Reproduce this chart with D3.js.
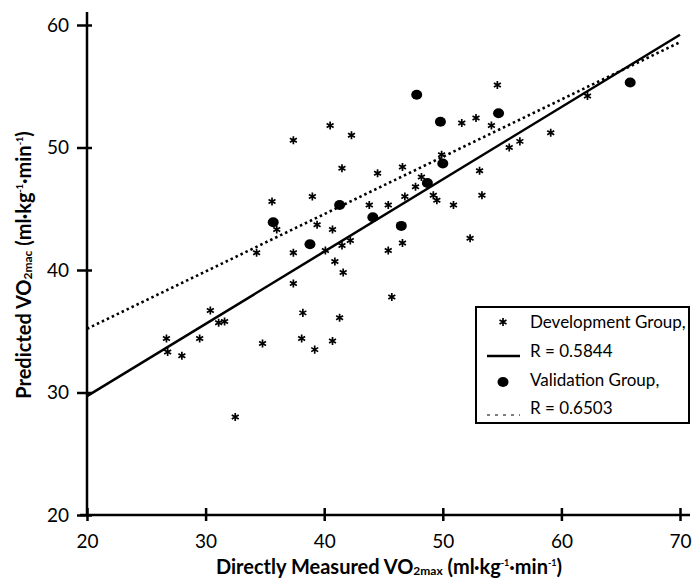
<!DOCTYPE html>
<html>
<head>
<meta charset="utf-8">
<script src="https://cdn.jsdelivr.net/npm/d3@7"></script>
<style>
  body { margin: 0; background: #fff; }
  svg { font-family: Lato, "Open Sans", sans-serif; }
</style>
</head>
<body>
<div id="chart"></div>
<script>
// du lieu doc tu hinh
var devX = [35.6, 36.0, 39.0, 37.4, 40.5, 41.5, 40.7, 39.4, 37.4, 34.3, 40.1, 40.9, 41.6, 37.4,
  30.4, 26.7, 26.8, 28.0, 29.5, 31.1, 31.6, 32.5, 34.8, 38.2, 38.1, 39.2, 40.7, 41.3,
  51.6, 52.8, 54.6, 54.1, 62.2, 59.1, 42.3, 55.6, 56.5, 49.9, 44.5, 46.6, 48.2, 47.7,
  46.8, 49.2, 49.5, 50.9, 53.1, 53.3, 43.8, 45.4, 46.6, 45.4, 42.2, 41.5, 52.3, 45.7];
var devY = [45.6, 43.3, 46.0, 50.6, 51.8, 48.3, 43.3, 43.7, 41.4, 41.4, 41.6, 40.7, 39.8, 38.9,
  36.7, 34.4, 33.3, 33.0, 34.4, 35.7, 35.8, 28.0, 34.0, 36.5, 34.4, 33.5, 34.2, 36.1,
  52.0, 52.4, 55.1, 51.8, 54.2, 51.2, 51.0, 50.0, 50.5, 49.4, 47.9, 48.4, 47.6, 46.8,
  46.0, 46.1, 45.7, 45.3, 48.1, 46.1, 45.3, 45.3, 42.2, 41.6, 42.4, 42.0, 42.6, 37.8];

var valX = [35.7, 41.3, 38.8, 47.8, 49.8, 54.7, 65.8, 50.0, 48.7, 44.1, 46.5];
var valY = [43.9, 45.3, 42.1, 54.3, 52.1, 52.8, 55.3, 48.7, 47.1, 44.3, 43.6];

// duong hoi quy
var fitX = [20, 70];
var devFit = [29.7, 59.2];
var valFit = [35.2, 58.6];

var xTicks = [20, 30, 40, 50, 60, 70];
var yTicks = [20, 30, 40, 50, 60];

var legendLabels = ["Development Group,", "R = 0.5844", "Validation Group,", "R = 0.6503"];

var width = 696, height = 584;

var svg = d3.select("#chart").append("svg")
  .attr("width", width)
  .attr("height", height);

var x = d3.scaleLinear().domain([20, 70]).range([87, 680]);
var y = d3.scaleLinear().domain([20, 60]).range([515, 25]);

// truc
svg.append("line")
  .attr("x1", x(20)).attr("x2", x(20))
  .attr("y1", 12).attr("y2", y(20))
  .attr("stroke", "#000").attr("stroke-width", 2.5);
svg.append("line")
  .attr("x1", 80).attr("x2", 690)
  .attr("y1", y(20)).attr("y2", y(20))
  .attr("stroke", "#000").attr("stroke-width", 2.5);

var yAxis = svg.append("g")
  .attr("transform", "translate(" + x(20) + ",0)")
  .call(d3.axisLeft(y).tickValues(yTicks).tickSize(10).tickPadding(8).tickFormat(d3.format("d")));
yAxis.select(".domain").remove();
yAxis.selectAll(".tick line").attr("x1", 5).attr("x2", -10).attr("stroke-width", 2.5);
yAxis.selectAll(".tick text").attr("font-size", "19px").attr("font-family", "Lato").attr("fill", "#000");

var xAxis = svg.append("g")
  .attr("transform", "translate(0," + y(20) + ")")
  .call(d3.axisBottom(x).tickValues(xTicks).tickSize(6).tickPadding(14).tickFormat(d3.format("d")));
xAxis.select(".domain").remove();
xAxis.selectAll(".tick line").attr("y1", -7).attr("y2", 6).attr("stroke-width", 2.5);
xAxis.selectAll(".tick text").attr("font-size", "19px").attr("font-family", "Lato").attr("fill", "#000");

// duong hoi quy
var line = d3.line()
  .x(function(d) { return x(d[0]); })
  .y(function(d) { return y(d[1]); });

svg.append("path")
  .datum(fitX.map(function(v, i) { return [v, valFit[i]]; }))
  .attr("d", line)
  .attr("fill", "none")
  .attr("stroke", "#000")
  .attr("stroke-width", 2.6)
  .attr("stroke-dasharray", "2.5,3");

svg.append("path")
  .datum(fitX.map(function(v, i) { return [v, devFit[i]]; }))
  .attr("d", line)
  .attr("fill", "none")
  .attr("stroke", "#000")
  .attr("stroke-width", 2.5);

// diem
var star = d3.symbol().type(d3.symbolAsterisk).size(45);

svg.selectAll(".dev")
  .data(devX.map(function(v, i) { return [v, devY[i]]; }))
  .enter().append("path")
  .attr("class", "dev")
  .attr("d", star)
  .attr("transform", function(d) { return "translate(" + x(d[0]) + "," + y(d[1]) + ")"; })
  .attr("fill", "none")
  .attr("stroke", "#000")
  .attr("stroke-width", 1.7);

svg.selectAll(".val")
  .data(valX.map(function(v, i) { return [v, valY[i]]; }))
  .enter().append("ellipse")
  .attr("class", "val")
  .attr("cx", function(d) { return x(d[0]); })
  .attr("cy", function(d) { return y(d[1]); })
  .attr("rx", 5.5)
  .attr("ry", 5)
  .attr("fill", "#000");

// chu thich
var lg = svg.append("g").attr("transform", "translate(476,307)");
lg.append("rect")
  .attr("width", 213).attr("height", 116)
  .attr("fill", "#fff").attr("stroke", "#000").attr("stroke-width", 2);

lg.append("path").attr("d", star).attr("transform", "translate(27,15)")
  .attr("fill", "none").attr("stroke", "#000").attr("stroke-width", 1.7);
lg.append("line").attr("x1", 11).attr("x2", 44).attr("y1", 49).attr("y2", 49)
  .attr("stroke", "#000").attr("stroke-width", 2.5);
lg.append("ellipse").attr("cx", 27).attr("cy", 75).attr("rx", 5.5).attr("ry", 5).attr("fill", "#000");
lg.append("line").attr("x1", 11).attr("x2", 44).attr("y1", 108).attr("y2", 108)
  .attr("stroke", "#000").attr("stroke-width", 1).attr("stroke-dasharray", "3,5");

lg.selectAll(".lt")
  .data(legendLabels)
  .enter().append("text")
  .attr("class", "lt")
  .attr("x", 54)
  .attr("y", function(d, i) { return [21, 50, 79, 107][i]; })
  .attr("font-size", "17px")
  .text(function(d) { return d; });

// tieu de truc
var xt = svg.append("text")
  .attr("x", 389).attr("y", 574)
  .attr("text-anchor", "middle")
  .attr("font-size", "20px").attr("font-weight", "bold");
xt.append("tspan").text("Directly Measured VO");
xt.append("tspan").attr("font-size", "12px").attr("dy", 1).text("2max");
xt.append("tspan").attr("dy", -1).text(" (ml·kg");
xt.append("tspan").attr("font-size", "9px").attr("dy", -8).text("-1");
xt.append("tspan").attr("dy", 8).text("·min");
xt.append("tspan").attr("font-size", "9px").attr("dy", -8).text("-1");
xt.append("tspan").attr("dy", 8).text(")");

var yt = svg.append("text")
  .attr("transform", "translate(31,265) rotate(-90)")
  .attr("text-anchor", "middle")
  .attr("font-size", "20px").attr("font-weight", "bold");
yt.append("tspan").text("Predicted VO");
yt.append("tspan").attr("font-size", "12px").attr("dy", 1).text("2mac");
yt.append("tspan").attr("dy", -1).text(" (ml·kg");
yt.append("tspan").attr("font-size", "9px").attr("dy", -8).text("-1");
yt.append("tspan").attr("dy", 8).text("·min");
yt.append("tspan").attr("font-size", "9px").attr("dy", -8).text("-1");
yt.append("tspan").attr("dy", 8).text(")");
</script>
</body>
</html>
